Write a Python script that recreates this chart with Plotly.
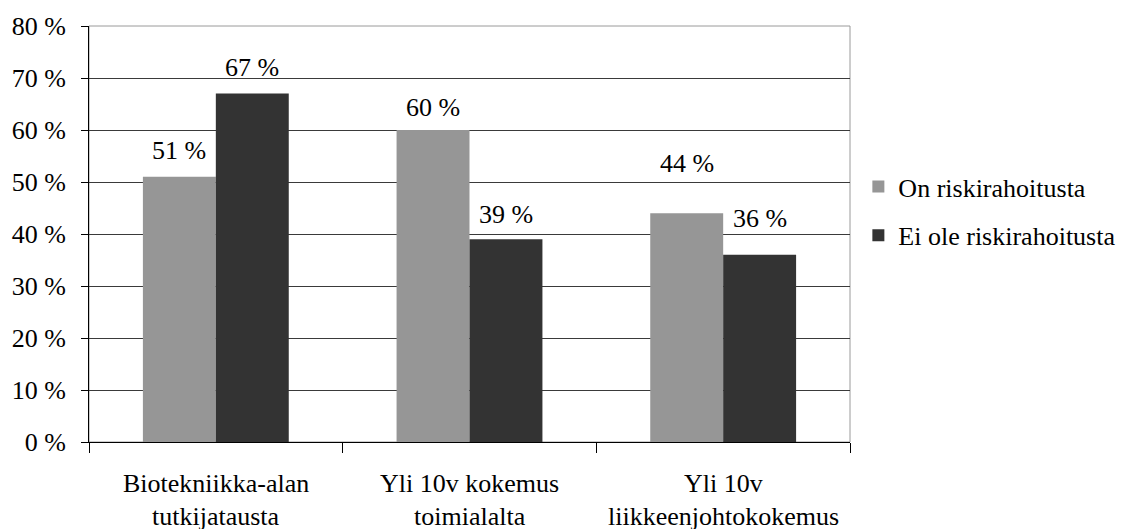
import plotly.graph_objects as go

categories = ["Biotekniikka-alan|tutkijatausta", "Yli 10v kokemus|toimialalta", "Yli 10v|liikkeenjohtokokemus"]
series_names = ["On riskirahoitusta", "Ei ole riskirahoitusta"]
on_values = [51, 60, 44]
ei_values = [67, 39, 36]
y_tick_vals = [0, 10, 20, 30, 40, 50, 60, 70, 80]
y_tick_text = ["0 %", "10 %", "20 %", "30 %", "40 %", "50 %", "60 %", "70 %", "80 %"]

# style
colors = ["#969696", "#333333"]
label_shift = [[26, 23, 50], [26, 25, 36]]
FONT = "'Times New Roman', 'Liberation Serif', serif"
FS = 26

cat_keys = [c.replace("|", " ") for c in categories]

fig = go.Figure()
for name, vals, col in zip(series_names, [on_values, ei_values], colors):
    fig.add_trace(go.Bar(x=cat_keys, y=vals, name=name, marker=dict(color=col, line=dict(width=0)),
                         legendgroup=name))

annotations = []
for s, vals in enumerate([on_values, ei_values]):
    xs = -36.5 if s == 0 else 36.5
    for i, v in enumerate(vals):
        annotations.append(dict(x=cat_keys[i], y=v, xref="x", yref="y", text=f"{v} %",
                                showarrow=False, xshift=xs, yshift=label_shift[s][i],
                                font=dict(family=FONT, size=FS, color="black")))
for i, c in enumerate(categories):
    l1, l2 = c.split("|")
    annotations.append(dict(x=cat_keys[i], y=0, xref="x", yref="y", text=l1, showarrow=False,
                            yshift=-41, font=dict(family=FONT, size=FS, color="black")))
    annotations.append(dict(x=cat_keys[i], y=0, xref="x", yref="y", text=l2, showarrow=False,
                            yshift=-74, font=dict(family=FONT, size=FS, color="black")))

# page body has an 8px default margin, so the figure is 8px smaller and shifted
fig.update_layout(
    width=1124, height=521,
    margin=dict(l=81, r=282, t=18, b=87, autoexpand=False),
    paper_bgcolor="white", plot_bgcolor="white",
    barmode="group", bargap=0.425, bargroupgap=0,
    font=dict(family=FONT, size=FS, color="black"),
    showlegend=True,
    legend=dict(x=1.011, y=0.555, xanchor="left", yanchor="middle",
                font=dict(family=FONT, size=FS, color="black"),
                tracegroupgap=12, traceorder="grouped", bgcolor="rgba(0,0,0,0)",
                itemwidth=30),
    annotations=annotations,
    shapes=[dict(type="rect", xref="paper", yref="paper", x0=0, x1=1, y0=0, y1=1,
                 line=dict(color="#9a9a9a", width=1), layer="below")],
)
fig.update_xaxes(showticklabels=False, tickson="boundaries", ticks="outside", ticklen=10,
                 tickcolor="black", showline=True, linecolor="black", linewidth=1,
                 showgrid=False, zeroline=False, automargin=False)
fig.update_yaxes(range=[0, 80], tickvals=y_tick_vals, ticktext=y_tick_text, ticks="outside",
                 ticklen=7, tickcolor="black", showline=True, linecolor="black", linewidth=1,
                 showgrid=True, gridcolor="#3a3a3a", gridwidth=1, zeroline=False, automargin=False,
                 ticklabelstandoff=10, tickfont=dict(family=FONT, size=FS, color="black"))

fig.write_html("out.html")
